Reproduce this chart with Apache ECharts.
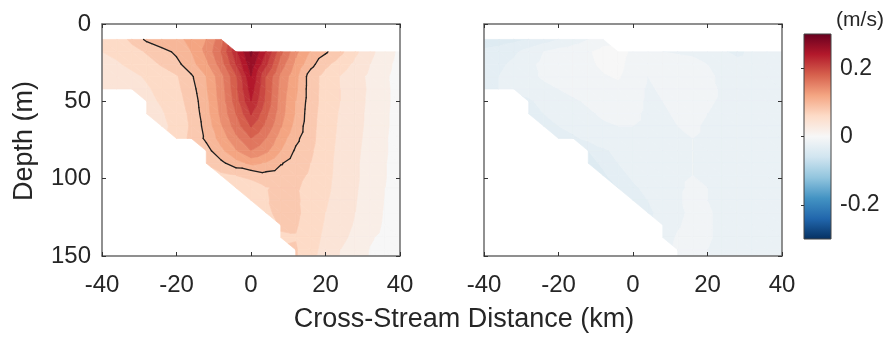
<!DOCTYPE html>
<html>
<head>
<meta charset="utf-8">
<script src="https://cdn.jsdelivr.net/npm/echarts@6/dist/echarts.min.js"></script>
<style>html,body{margin:0;padding:0;background:#fff}#c{width:892px;height:337px}</style>
</head>
<body>
<div id="c"></div>
<script>
// ---------------- data ----------------
const N = null;
const distances = [-40,-36,-32,-28,-24,-20,-16,-12,-8,-4,0,4,8,12,16,20,24,28,32,36,40]; // km
const depths = [10,18,26,34,42,50,58,66,74,82,90,98,106,114,122,130,138,146,154];      // m
const xTicks = [-40,-20,0,20,40];
const depthTicks = [0,50,100,150];
const colorbarTicks = [-0.2,0,0.2];
const contourLevel = 0.1;

// along-stream velocity (m/s), one row per depth
const alongVel = [
 [0.062,0.068,0.085,0.104,0.115,0.115,0.125,0.14,0.172,N,N,N,N,N,N,N,N,N,N,N,N],
 [0.06,0.064,0.072,0.082,0.092,0.104,0.12,0.145,0.18,0.235,0.285,0.24,0.185,0.145,0.118,0.103,0.085,0.064,0.045,0.03,0.015],
 [0.055,0.058,0.064,0.072,0.082,0.094,0.113,0.135,0.17,0.22,0.272,0.225,0.17,0.135,0.107,0.085,0.07,0.055,0.04,0.026,0.013],
 [0.05,0.052,0.056,0.062,0.07,0.078,0.097,0.12,0.153,0.197,0.26,0.2,0.155,0.126,0.09,0.072,0.059,0.047,0.036,0.023,0.012],
 [0.045,0.048,0.052,0.058,0.065,0.075,0.092,0.118,0.15,0.195,0.25,0.198,0.152,0.124,0.09,0.072,0.06,0.048,0.037,0.024,0.012],
 [N,N,N,0.055,0.062,0.072,0.088,0.114,0.148,0.19,0.24,0.195,0.15,0.12,0.09,0.071,0.06,0.048,0.036,0.024,0.012],
 [N,N,N,0.05,0.058,0.068,0.085,0.112,0.145,0.18,0.222,0.185,0.148,0.118,0.088,0.07,0.058,0.047,0.035,0.023,0.012],
 [N,N,N,N,0.055,0.066,0.083,0.108,0.138,0.17,0.202,0.175,0.142,0.113,0.087,0.069,0.057,0.046,0.035,0.023,0.012],
 [N,N,N,N,N,0.068,0.085,0.104,0.128,0.155,0.18,0.16,0.13,0.105,0.086,0.068,0.056,0.045,0.034,0.022,0.011],
 [N,N,N,N,N,N,N,0.092,0.115,0.138,0.16,0.145,0.12,0.097,0.083,0.067,0.055,0.044,0.033,0.022,0.011],
 [N,N,N,N,N,N,N,0.082,0.095,0.112,0.125,0.118,0.102,0.088,0.08,0.066,0.054,0.043,0.032,0.021,0.011],
 [N,N,N,N,N,N,N,N,0.075,0.08,0.082,0.092,0.088,0.084,0.078,0.065,0.054,0.043,0.032,0.021,0.01],
 [N,N,N,N,N,N,N,N,N,0.072,0.076,0.079,0.083,0.082,0.075,0.064,0.053,0.042,0.032,0.02,0.01],
 [N,N,N,N,N,N,N,N,N,N,0.072,0.078,0.086,0.083,0.073,0.062,0.052,0.041,0.031,0.019,0.009],
 [N,N,N,N,N,N,N,N,N,N,N,0.075,0.087,0.084,0.072,0.06,0.05,0.04,0.03,0.018,0.009],
 [N,N,N,N,N,N,N,N,N,N,N,N,0.082,0.082,0.07,0.058,0.048,0.038,0.028,0.017,0.008],
 [N,N,N,N,N,N,N,N,N,N,N,N,0.078,0.079,0.068,0.056,0.045,0.035,0.022,0.015,0.008],
 [N,N,N,N,N,N,N,N,N,N,N,N,N,0.082,0.066,0.054,0.04,0.03,0.019,0.013,0.007],
 [N,N,N,N,N,N,N,N,N,N,N,N,N,0.082,0.065,0.052,0.038,0.028,0.018,0.012,0.006]
];

// cross-stream velocity (m/s), one row per depth
const crossVel = [
 [-0.036,-0.035,-0.033,-0.03,-0.025,-0.02,-0.015,-0.01,-0.004,N,N,N,N,N,N,N,N,N,N,N,N],
 [-0.028,-0.026,-0.022,-0.016,-0.01,-0.006,-0.004,-0.001,0.003,0.004,-0.002,-0.008,-0.01,-0.011,-0.012,-0.014,-0.018,-0.024,-0.016,-0.012,-0.012],
 [-0.024,-0.022,-0.018,-0.012,-0.008,-0.006,-0.005,-0.002,0.002,0.003,-0.004,-0.009,-0.008,-0.006,-0.007,-0.01,-0.013,-0.015,-0.013,-0.012,-0.012],
 [-0.022,-0.02,-0.016,-0.012,-0.009,-0.007,-0.006,-0.004,-0.001,0.001,-0.005,-0.01,-0.008,-0.005,-0.006,-0.009,-0.011,-0.013,-0.012,-0.012,-0.012],
 [-0.022,-0.02,-0.018,-0.015,-0.012,-0.01,-0.008,-0.006,-0.004,-0.003,-0.007,-0.011,-0.009,-0.006,-0.006,-0.008,-0.011,-0.012,-0.013,-0.012,-0.012],
 [N,N,N,-0.022,-0.016,-0.013,-0.011,-0.009,-0.007,-0.006,-0.008,-0.011,-0.01,-0.008,-0.007,-0.009,-0.011,-0.012,-0.013,-0.013,-0.012],
 [N,N,N,-0.026,-0.02,-0.016,-0.013,-0.011,-0.009,-0.008,-0.009,-0.011,-0.011,-0.009,-0.008,-0.01,-0.012,-0.013,-0.013,-0.013,-0.012],
 [N,N,N,N,-0.026,-0.02,-0.016,-0.013,-0.011,-0.01,-0.01,-0.011,-0.012,-0.01,-0.009,-0.011,-0.013,-0.014,-0.013,-0.012,-0.012],
 [N,N,N,N,N,-0.028,-0.022,-0.017,-0.014,-0.012,-0.011,-0.012,-0.012,-0.011,-0.01,-0.011,-0.013,-0.014,-0.013,-0.012,-0.011],
 [N,N,N,N,N,N,N,-0.03,-0.022,-0.017,-0.014,-0.013,-0.012,-0.011,-0.01,-0.011,-0.012,-0.013,-0.013,-0.012,-0.011],
 [N,N,N,N,N,N,N,-0.034,-0.028,-0.02,-0.016,-0.014,-0.012,-0.011,-0.01,-0.011,-0.012,-0.013,-0.013,-0.012,-0.011],
 [N,N,N,N,N,N,N,N,-0.032,-0.024,-0.018,-0.015,-0.013,-0.011,-0.01,-0.011,-0.012,-0.013,-0.013,-0.012,-0.011],
 [N,N,N,N,N,N,N,N,N,-0.03,-0.022,-0.017,-0.014,-0.011,-0.009,-0.01,-0.012,-0.013,-0.013,-0.012,-0.011],
 [N,N,N,N,N,N,N,N,N,N,-0.026,-0.02,-0.015,-0.011,-0.008,-0.01,-0.012,-0.013,-0.013,-0.012,-0.011],
 [N,N,N,N,N,N,N,N,N,N,N,-0.022,-0.017,-0.012,-0.008,-0.009,-0.012,-0.014,-0.013,-0.012,-0.011],
 [N,N,N,N,N,N,N,N,N,N,N,N,-0.016,-0.011,-0.007,-0.009,-0.012,-0.014,-0.013,-0.012,-0.011],
 [N,N,N,N,N,N,N,N,N,N,N,N,-0.014,-0.009,-0.006,-0.009,-0.012,-0.014,-0.013,-0.012,-0.011],
 [N,N,N,N,N,N,N,N,N,N,N,N,N,-0.008,-0.006,-0.01,-0.013,-0.014,-0.012,-0.011,-0.011],
 [N,N,N,N,N,N,N,N,N,N,N,N,N,-0.007,-0.006,-0.01,-0.013,-0.014,-0.012,-0.011,-0.011]
];

// ---------------- styling / helpers ----------------
const FONT = "'Liberation Sans', Arial, Helvetica, sans-serif";
const TEXT = '#262626';
const FRAME = '#6b6b6b';
const RDBU = ['#053061','#2166ac','#4393c3','#92c5de','#d1e5f0','#f7f7f7','#fddbc7','#f4a582','#d6604d','#b2182b','#67001f'];
const CMIN = -0.3, CMAX = 0.3;

function hex2rgb(h){return [parseInt(h.substr(1,2),16),parseInt(h.substr(3,2),16),parseInt(h.substr(5,2),16)];}
function cmap(v){
  let t = (v - CMIN) / (CMAX - CMIN); t = Math.max(0, Math.min(1, t)) * (RDBU.length - 1);
  const k = Math.min(RDBU.length - 2, Math.floor(t)), f = t - k;
  const a = hex2rgb(RDBU[k]), b = hex2rgb(RDBU[k+1]);
  return 'rgb(' + a.map((c,n)=>Math.round(c + f*(b[n]-c))).join(',') + ')';
}
function makeLevels(step){
  const a = []; const n = Math.round((CMAX - CMIN)/step);
  for (let k = 0; k <= n; k++) a.push(+(CMIN + k*step).toFixed(4));
  return a;
}
function clipPoly(poly, level, keepAbove){
  const out = []; const n = poly.length;
  for (let k = 0; k < n; k++){
    const a = poly[k], b = poly[(k+1)%n];
    const ina = keepAbove ? a[2] >= level : a[2] <= level;
    const inb = keepAbove ? b[2] >= level : b[2] <= level;
    if (ina) out.push(a);
    if (ina !== inb){
      const t = (level - a[2])/(b[2] - a[2]);
      out.push([a[0]+t*(b[0]-a[0]), a[1]+t*(b[1]-a[1]), level]);
    }
  }
  return out;
}
function cellTriangles(grid, i, j, api){
  const node = (ii, jj) => {
    const v = grid[jj][ii]; if (v == null) return null;
    const p = api.coord([distances[ii], depths[jj]]); return [p[0], p[1], v];
  };
  const a = node(i,j), b = node(i+1,j), c = node(i,j+1), d = node(i+1,j+1);
  const tris = [];
  if (a && c && d) tris.push([a,c,d]);
  if (a && b && d) tris.push([a,b,d]);
  return tris;
}
function fillRenderer(grid, levels){
  return function(params, api){
    const i = api.value(0), j = api.value(1);
    const children = [];
    for (const tri of cellTriangles(grid, i, j, api)){
      const vs = tri.map(p=>p[2]);
      const vmin = Math.min(...vs), vmax = Math.max(...vs);
      for (let k = 0; k < levels.length-1; k++){
        const lo = levels[k], hi = levels[k+1];
        if (hi < vmin || lo > vmax) continue;
        let poly = clipPoly(tri, lo, true); if (poly.length < 3) continue;
        poly = clipPoly(poly, hi, false); if (poly.length < 3) continue;
        const col = cmap(lo);
        children.push({type:'polygon', shape:{points: poly.map(p=>[p[0],p[1]])},
          style:{fill: col, stroke: col, lineWidth: 0.7}});
      }
    }
    return {type:'group', children};
  };
}
function isoRenderer(grid, level){
  return function(params, api){
    const i = api.value(0), j = api.value(1);
    const children = [];
    for (const tri of cellTriangles(grid, i, j, api)){
      const pts = [];
      for (let k = 0; k < 3; k++){
        const a = tri[k], b = tri[(k+1)%3];
        const fa = a[2]-level, fb = b[2]-level;
        if ((fa < 0) !== (fb < 0)){
          const t = fa/(fa-fb);
          pts.push([a[0]+t*(b[0]-a[0]), a[1]+t*(b[1]-a[1])]);
        }
      }
      if (pts.length === 2) children.push({type:'polyline', shape:{points: pts},
        style:{stroke:'#1e1e1e', lineWidth:1.3, fill:null, lineCap:'round'}});
    }
    return {type:'group', children};
  };
}

const cells = [];
for (let j = 0; j < depths.length-1; j++) for (let i = 0; i < distances.length-1; i++) cells.push([i, j]);

function xAx(gridIndex, position, showLabels){
  return {type:'value', gridIndex, position, min:-40, max:40, interval:20, z:10,
    axisLine:{show:true, onZero:false, lineStyle:{color:FRAME, width:1.5}},
    axisTick:{show:true, inside:true, length:4, lineStyle:{color:'#333', width:1}},
    axisLabel:{show:showLabels, fontSize:24, color:TEXT, fontFamily:FONT, margin:17, showMinLabel:true, showMaxLabel:true},
    splitLine:{show:false}};
}
function yAx(gridIndex, position, showLabels){
  return {type:'value', gridIndex, position, inverse:true, min:0, max:150, interval:50, z:10,
    axisLine:{show:true, onZero:false, lineStyle:{color:FRAME, width:1.5}},
    axisTick:{show:true, inside:true, length:4, lineStyle:{color:'#333', width:1}},
    axisLabel:{show:showLabels, fontSize:24, color:TEXT, fontFamily:FONT, margin:11, showMinLabel:true, showMaxLabel:true},
    splitLine:{show:false}};
}

const cbStops = RDBU.slice().reverse().map((c,k)=>({offset:k/(RDBU.length-1), color:c}));

const option = {
  animation:false,
  backgroundColor:'#ffffff',
  grid:[
    {left:102, top:24, width:298, height:232},
    {left:484, top:24, width:298, height:232},
    {left:804, top:34, width:27, height:205}
  ],
  xAxis:[
    xAx(0,'bottom',true), xAx(0,'top',false),
    xAx(1,'bottom',true), xAx(1,'top',false),
    {type:'value', gridIndex:2, min:0, max:1, show:false}
  ],
  yAxis:[
    yAx(0,'left',true), yAx(0,'right',false),
    yAx(1,'left',false), yAx(1,'right',false),
    {type:'value', gridIndex:2, position:'right', min:CMIN, max:CMAX, z:10,
      axisLine:{show:false},
      axisTick:{show:true, inside:true, length:3, customValues:colorbarTicks, lineStyle:{color:'#333'}},
      axisLabel:{show:true, customValues:colorbarTicks, fontSize:23, color:TEXT, fontFamily:FONT, margin:9},
      splitLine:{show:false}}
  ],
  series:[
    {type:'custom', name:'along', xAxisIndex:0, yAxisIndex:0, data:cells, clip:true, silent:true, z:2,
      renderItem: fillRenderer(alongVel, makeLevels(0.02))},
    {type:'custom', name:'contour', xAxisIndex:0, yAxisIndex:0, data:cells, clip:true, silent:true, z:3,
      renderItem: isoRenderer(alongVel, contourLevel)},
    {type:'custom', name:'cross', xAxisIndex:2, yAxisIndex:2, data:cells, clip:true, silent:true, z:2,
      renderItem: fillRenderer(crossVel, makeLevels(0.01))},
    {type:'custom', name:'colorbar', xAxisIndex:4, yAxisIndex:4, data:[[0,0]], silent:true, z:2,
      renderItem: function(params, api){
        const p0 = api.coord([0, CMAX]), p1 = api.coord([1, CMIN]);
        return {type:'rect', shape:{x:p0[0], y:p0[1], width:p1[0]-p0[0], height:p1[1]-p0[1]},
          style:{fill:new echarts.graphic.LinearGradient(0,0,0,1,cbStops), stroke:'#444', lineWidth:1}};
      }}
  ],
  graphic:[
    {type:'text', x:464, y:320, style:{text:'Cross-Stream Distance (km)', fontSize:27, fontFamily:FONT, fill:TEXT, align:'center', verticalAlign:'middle'}},
    {type:'text', x:25, y:141, rotation:Math.PI/2, style:{text:'Depth (m)', fontSize:27, fontFamily:FONT, fill:TEXT, align:'center', verticalAlign:'middle'}},
    {type:'text', x:860, y:20, style:{text:'(m/s)', fontSize:21, fontFamily:FONT, fill:TEXT, align:'center', verticalAlign:'middle'}}
  ]
};
const chart = echarts.init(document.getElementById('c'));
chart.setOption(option);
</script>
</body>
</html>
